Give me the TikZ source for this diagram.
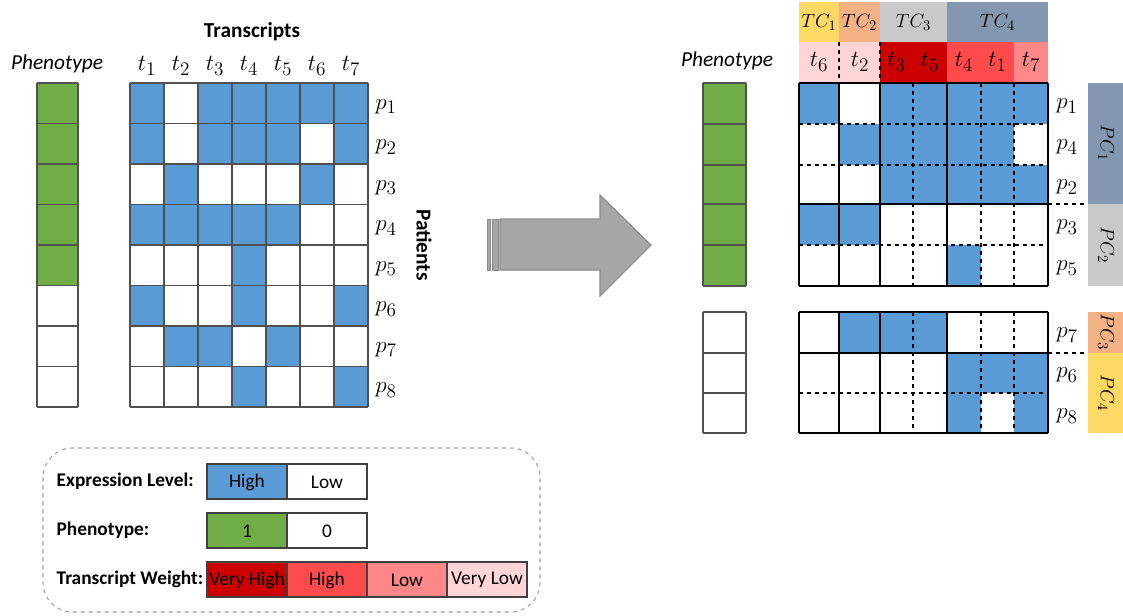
\documentclass[tikz,border=0pt]{standalone}
\usepackage{fontspec}
\setmainfont{Carlito}
\definecolor{hiblue}{RGB}{91,155,213}
\definecolor{phgreen}{RGB}{112,173,71}
\definecolor{wvhigh}{RGB}{204,0,0}
\definecolor{whigh}{RGB}{255,75,75}
\definecolor{wlow}{RGB}{255,135,135}
\definecolor{wvlow}{RGB}{255,213,213}
\definecolor{cyellow}{RGB}{255,217,102}
\definecolor{corange}{RGB}{244,177,131}
\definecolor{cgray}{RGB}{201,201,201}
\definecolor{cslate}{RGB}{132,151,176}
\definecolor{arrowgray}{RGB}{166,166,166}
\tikzset{
  hi/.style={fill=hiblue},
  gline/.style={draw={rgb,255:red,80;green,80;blue,80},line width=1.1pt},
  cut/.style={draw=black,line width=1.3pt},
  subcut/.style={draw=black,dashed,line width=0.9pt},
  lbl/.style={font=\fontsize{19}{22}\selectfont},
  clbl/.style={font=\fontsize{15.5}{18}\selectfont},
  head/.style={font=\fontsize{16}{19}\selectfont\bfseries},
  keytext/.style={font=\fontsize{14.5}{17}\selectfont},
  keylabel/.style={anchor=west,font=\fontsize{14.5}{17}\selectfont\bfseries},
  keybox/.style={draw={rgb,255:red,64;green,64;blue,64},line width=1pt},
}
\begin{document}
\begin{tikzpicture}[x=0.75pt,y=0.75pt,yscale=-1,xscale=1]
\useasboundingbox (0,0) rectangle (1123,615);
        % Text Node
        \draw (252,32) node (trhead) [head] {Transcripts};
        % Text Node
        \draw (57,64) node (phleft) [font=\fontsize{16}{19}\selectfont\itshape] {Phenotype};
        % Text Node
        \draw (424,245) node (pathead) [head,rotate=-90] {Patients};
        % Phenotype column, left
        \fill[phgreen] (37,83) rectangle (78,285.5);
        \foreach \i in {0,...,8} \draw[gline] (37,{83+40.5*\i}) -- (78,{83+40.5*\i});
        \draw[gline] (37,83) -- (37,407);
        \draw[gline] (78,83) -- (78,407);
        % Expression matrix, left
        \foreach \c in {1,3,4,5,6,7} \fill[hi] ({96+34*\c},83) rectangle +(34,40.5);
        \foreach \c in {1,3,4,5,7} \fill[hi] ({96+34*\c},123.5) rectangle +(34,40.5);
        \foreach \c in {2,6} \fill[hi] ({96+34*\c},164) rectangle +(34,40.5);
        \foreach \c in {1,2,3,4,5} \fill[hi] ({96+34*\c},204.5) rectangle +(34,40.5);
        \foreach \c in {4} \fill[hi] ({96+34*\c},245) rectangle +(34,40.5);
        \foreach \c in {1,4,7} \fill[hi] ({96+34*\c},285.5) rectangle +(34,40.5);
        \foreach \c in {2,3,5} \fill[hi] ({96+34*\c},326) rectangle +(34,40.5);
        \foreach \c in {4,7} \fill[hi] ({96+34*\c},366.5) rectangle +(34,40.5);
        \foreach \i in {0,...,7} \draw[gline] ({130+34*\i},83) -- ({130+34*\i},407);
        \foreach \i in {0,...,8} \draw[gline] (130,{83+40.5*\i}) -- (368,{83+40.5*\i});
        % Text Node
        \foreach \i in {1,...,7} \draw ({113+34*\i},66) node (t\i) [lbl] {$t_{\i}$};
        % Text Node
        \foreach \i in {1,...,8} \draw (386,{66+40.5*\i}) node (p\i) [lbl] {$p_{\i}$};
        % Arrow
        \draw[fill=arrowgray,draw={rgb,255:red,140;green,140;blue,140},line width=0.8pt] (500,219) -- (600,219) -- (600,195) -- (651,245) -- (600,296) -- (600,270) -- (500,270) -- cycle;
        \draw[fill=arrowgray,draw={rgb,255:red,140;green,140;blue,140},line width=0.6pt] (487,219) rectangle (490,270);
        \draw[fill=arrowgray,draw={rgb,255:red,140;green,140;blue,140},line width=0.6pt] (492,219) rectangle (498,270);
        % Text Node
        \draw (727,61) node (phright) [font=\fontsize{16}{19}\selectfont\itshape] {Phenotype};
        % Phenotype column, right
        \fill[phgreen] (703,83) rectangle (746,286);
        \foreach \y in {83,124,165,204,245,286,312,353,393,433} \draw[gline] (703,\y) -- (746,\y);
        \draw[gline] (703,83) -- (703,286);
        \draw[gline] (746,83) -- (746,286);
        \draw[gline] (703,312) -- (703,433);
        \draw[gline] (746,312) -- (746,433);
        % Transcript clusters
        \fill[cyellow] (799,2) rectangle (839,42);
        \fill[corange] (839,2) rectangle (880,42);
        \fill[cgray] (880,2) rectangle (947,42);
        \fill[cslate] (947,2) rectangle (1048,42);
        \fill[wvlow] (799,42) rectangle (880,83);
        \fill[wvhigh] (880,42) rectangle (947,83);
        \fill[whigh] (947,42) rectangle (1014,83);
        \fill[wlow] (1014,42) rectangle (1048,83);
        \draw[subcut] (839,42) -- (839,83);
        \draw[subcut] (880,42) -- (880,83);
        % Text Node
        \draw (819,22) node (tc1) [clbl] {$TC_1$};
        \draw (859.5,22) node (tc2) [clbl] {$TC_2$};
        \draw (913.5,22) node (tc3) [clbl] {$TC_3$};
        \draw (997.5,22) node (tc4) [clbl] {$TC_4$};
        % Text Node
        \draw (819,62) node (rt6) [lbl] {$t_6$};
        \draw (860,62) node (rt2) [lbl] {$t_2$};
        \draw (896.5,62) node (rt3) [lbl] {$t_3$};
        \draw (930,62) node (rt5) [lbl] {$t_5$};
        \draw (964,62) node (rt4) [lbl] {$t_4$};
        \draw (997.5,62) node (rt1) [lbl] {$t_1$};
        \draw (1031,62) node (rt7) [lbl] {$t_7$};
        % Expression matrix, right
        \fill[hi] (799,83) rectangle (839,124);
        \fill[hi] (880,83) rectangle (1048,124);
        \fill[hi] (839,124) rectangle (1014,165);
        \fill[hi] (880,165) rectangle (1048,204);
        \fill[hi] (799,204) rectangle (880,245);
        \fill[hi] (947,245) rectangle (981,286);
        \fill[hi] (839,312) rectangle (947,353);
        \fill[hi] (947,353) rectangle (1048,393);
        \fill[hi] (947,393) rectangle (981,433);
        \fill[hi] (1014,393) rectangle (1048,433);
        \foreach \y in {124,165,245} \draw[subcut] (799,\y) -- (1048,\y);
        \draw[subcut] (799,393) -- (1048,393);
        \foreach \x in {913,981,1014} {
          \draw[subcut] (\x,83) -- (\x,286);
          \draw[subcut] (\x,312) -- (\x,433);
        }
        \foreach \y in {83,204,286,312,353,433} \draw[cut] (799,\y) -- (1048,\y);
        \foreach \x in {799,839,880,947,1048} {
          \draw[cut] (\x,83) -- (\x,286);
          \draw[cut] (\x,312) -- (\x,433);
        }
        % Text Node
        \draw (1067,106) node (rp1) [lbl] {$p_1$};
        \draw (1067,147) node (rp4) [lbl] {$p_4$};
        \draw (1067,187) node (rp2) [lbl] {$p_2$};
        \draw (1067,227) node (rp3) [lbl] {$p_3$};
        \draw (1067,268) node (rp5) [lbl] {$p_5$};
        \draw (1067,335) node (rp7) [lbl] {$p_7$};
        \draw (1067,375) node (rp6) [lbl] {$p_6$};
        \draw (1067,416) node (rp8) [lbl] {$p_8$};
        % Patient clusters
        \fill[cslate] (1088,83) rectangle (1123,204);
        \fill[cgray] (1088,204) rectangle (1123,286);
        \fill[corange] (1088,312) rectangle (1123,353);
        \fill[cyellow] (1088,353) rectangle (1123,433);
        \draw[subcut] (1048,204) -- (1088,204);
        \draw[subcut] (1048,353) -- (1088,353);
        % Text Node
        \draw (1106,143) node (pc1) [clbl,rotate=-90] {$PC_1$};
        \draw (1106,245) node (pc2) [clbl,rotate=-90] {$PC_2$};
        \draw (1106,332) node (pc3) [clbl,rotate=-90] {$PC_3$};
        \draw (1106,393) node (pc4) [clbl,rotate=-90] {$PC_4$};
        % Legend
        \draw[dashed,draw={rgb,255:red,160;green,160;blue,160},line width=0.8pt,rounded corners=22] (43,448) rectangle (540,612);
        % Text Node
        \draw (52,481) node (kexpr) [keylabel] {Expression Level:};
        \draw (52,530) node (kphen) [keylabel] {Phenotype:};
        \draw (52,579) node (kwgt) [keylabel] {Transcript Weight:};
        \draw[keybox,fill=hiblue] (207,464) rectangle (287,499);
        \draw[keybox,fill=white] (287,464) rectangle (367,499);
        \draw[keybox,fill=phgreen] (207,513) rectangle (287,548);
        \draw[keybox,fill=white] (287,513) rectangle (367,548);
        \draw[keybox,fill=wvhigh] (207,562) rectangle (287,597);
        \draw[keybox,fill=whigh] (287,562) rectangle (367,597);
        \draw[keybox,fill=wlow] (367,562) rectangle (447,597);
        \draw[keybox,fill=wvlow] (447,562) rectangle (527,597);
        % Text Node
        \draw (247,482) node (khigh) [keytext] {High};
        \draw (327,482) node (klow) [keytext] {Low};
        \draw (247,531) node (kone) [keytext] {1};
        \draw (327,531) node (kzero) [keytext] {0};
        \draw (247,580) node (kvh) [keytext] {Very High};
        \draw (327,580) node (kh) [keytext] {High};
        \draw (407,580) node (kl) [keytext] {Low};
        \draw (487,580) node (kvl) [keytext] {Very Low};
\end{tikzpicture}
\end{document}
